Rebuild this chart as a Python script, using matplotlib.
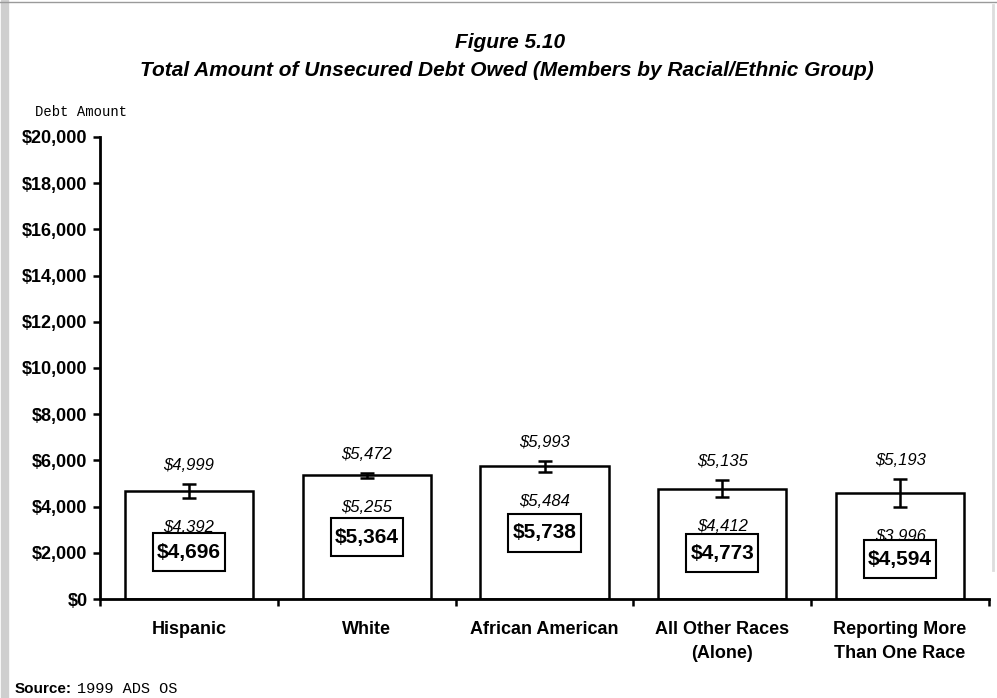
import matplotlib.pyplot as plt
from matplotlib.patches import Rectangle
import numpy as np

# data
groups = ['Hispanic', 'White', 'African American', 'All Other Races\n(Alone)', 'Reporting More\nThan One Race']
means = [4696, 5364, 5738, 4773, 4594]
lower = [4392, 5255, 5484, 4412, 3996]
upper = [4999, 5472, 5993, 5135, 5193]
yticks = list(range(0, 20001, 2000))

# where the boxed mean labels sit (layout only)
box_y = [2030, 2680, 2860, 1990, 1730]

plt.rcParams['font.family'] = ['Liberation Sans', 'DejaVu Sans']

fig = plt.figure(figsize=(9.97, 6.98), dpi=100)
ax = fig.add_axes([100/997, 1 - 599/698, 889/997, 462/698])

x = np.arange(len(groups))
means_a = np.array(means)
yerr = [means_a - np.array(lower), np.array(upper) - means_a]

ax.bar(x, means, width=0.72, color='white', edgecolor='black', linewidth=1.8, zorder=2)
ax.errorbar(x, means, yerr=yerr, fmt='none', ecolor='black', elinewidth=1.8,
            capsize=5, capthick=1.8, zorder=3)

for i in range(len(groups)):
    ax.text(x[i], upper[i] + 800, '${:,}'.format(upper[i]), ha='center', va='center',
            fontsize=12, style='italic', zorder=4)
    ax.text(x[i], lower[i] - 1280, '${:,}'.format(lower[i]), ha='center', va='center',
            fontsize=12, style='italic', zorder=4)
    # box around the mean label, 72x38 px
    ax.add_patch(Rectangle((x[i] - 0.203, box_y[i] - 820), 0.406, 1640,
                           facecolor='white', edgecolor='black', linewidth=1.5, zorder=5))
    ax.text(x[i], box_y[i], '${:,}'.format(means[i]), ha='center', va='center',
            fontsize=15, fontweight='bold', zorder=6)

ax.set_xlim(-0.5, len(groups) - 0.5)
ax.set_ylim(0, 20000)
ax.set_yticks(yticks)
ax.set_yticklabels(['${:,}'.format(v) for v in yticks], fontsize=13, fontweight='bold')
ax.set_xticks(np.arange(len(groups) + 1) - 0.5)
ax.set_xticklabels([])
ax.set_xticks(x, minor=True)
ax.set_xticklabels(groups, minor=True, fontsize=13, fontweight='bold', va='top', linespacing=1.55)
ax.tick_params(axis='x', which='minor', length=0, pad=16)
ax.tick_params(axis='x', which='major', length=5, width=1.8, direction='out')
ax.tick_params(axis='y', length=5, width=1.8, direction='out', pad=4)

for s in ['top', 'right']:
    ax.spines[s].set_visible(False)
for s in ['left', 'bottom']:
    ax.spines[s].set_linewidth(2)

fig.text(510/997, 1 - 42/698, 'Figure 5.10', ha='center', va='center',
         fontsize=15, fontweight='bold', style='italic')
fig.text(507/997, 1 - 71/698, 'Total Amount of Unsecured Debt Owed (Members by Racial/Ethnic Group)',
         ha='center', va='center', fontsize=15, fontweight='bold', style='italic')
fig.text(35/997, 1 - 112/698, 'Debt Amount', ha='left', va='center',
         fontsize=10, family='Liberation Mono')
fig.text(15/997, 1 - 689/698, 'Source:', ha='left', va='center', fontsize=11, fontweight='bold')
fig.text(77/997, 1 - 689/698, '1999 ADS OS', ha='left', va='center', fontsize=11,
         family='Liberation Mono')

# scanned page edges
fig.add_artist(plt.Line2D([5/997, 5/997], [0, 0.995], color='#cfcfcf', linewidth=6))
fig.add_artist(plt.Line2D([0, 1], [0.997, 0.997], color='#9a9a9a', linewidth=1))
fig.add_artist(plt.Line2D([993/997, 993/997], [1 - 570/698, 1 - 5/698], color='#dddddd', linewidth=2))

fig.savefig('out.png', dpi=100)
